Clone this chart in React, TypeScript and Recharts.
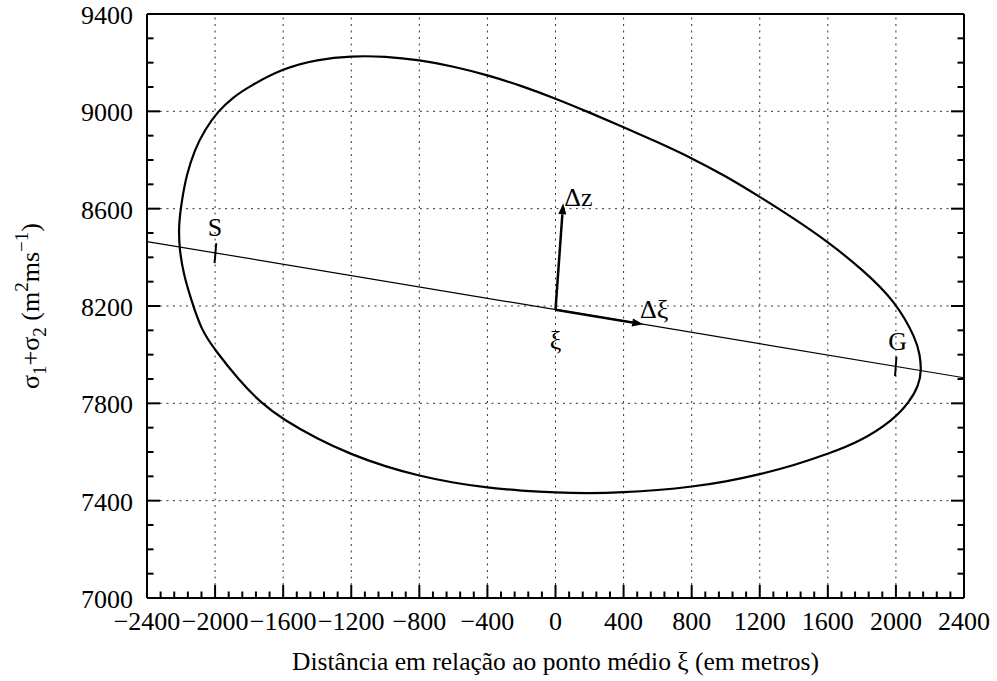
import { ComposedChart, Line, XAxis, YAxis, ReferenceLine, ReferenceDot } from 'recharts';

// axis ticks
const xTicks = [-2400, -2000, -1600, -1200, -800, -400, 0, 400, 800, 1200, 1600, 2000, 2400];
const yTicks = [7000, 7400, 7800, 8200, 8600, 9000, 9400];
const xMinorPerMajor = 5;
const yMinorPerMajor = 4;

// closed contour of sigma1+sigma2 vs distance, starting at the bottom and running clockwise
const loopX = [
  0, -200, -400, -600, -800, -1000, -1200, -1400, -1600, -1728, -1860, -2000, -2081, -2140,
  -2185, -2209, -2215, -2195, -2168, -2121, -2060, -1983, -1900, -1800, -1600, -1400, -1200, -1000,
  -800, -600, -400, -200, 0, 200, 400, 600, 800, 1000, 1200, 1400, 1600, 1800, 2000, 2121,
  2140, 2150, 2135, 2081, 1985, 1790, 1600, 1400, 1200, 1000, 800, 600, 400, 200,
];
const loopY = [
  7433, 7441, 7453, 7473, 7502, 7540, 7590, 7654, 7734, 7800, 7895, 8019, 8101, 8225,
  8330, 8430, 8530, 8636, 8738, 8841, 8925, 9000, 9055, 9102, 9177, 9213, 9228, 9226,
  9211, 9185, 9149, 9105, 9053, 8995, 8935, 8873, 8808, 8734, 8649, 8560, 8464, 8352, 8218, 8060,
  8000, 7937, 7875, 7807, 7731, 7643, 7592, 7545, 7508, 7478, 7457, 7443, 7434, 7430,
];

// straight line through the midpoint
const secantX = [-2400, 2400];
const secantY = [8465, 7905];

// vectors from the midpoint
const arrows = [
  { name: 'dz', from: [0, 8185], to: [45, 8622] },
  { name: 'dxi', from: [0, 8185], to: [515, 8125] },
];

// small marks on the line at S and G
const markers = [
  { name: 'S', from: [-1993, 8458], to: [-2003, 8376] },
  { name: 'G', from: [2003, 7992], to: [1995, 7912] },
];

const labels = [
  { text: 'S', x: -2000, y: 8525 },
  { text: 'G', x: 2010, y: 8056 },
  { text: 'ξ', x: 0, y: 8062 },
  { text: 'Δz', x: 135, y: 8648 },
  { text: 'Δξ', x: 580, y: 8188 },
];

const loopData = loopX.map((x, i) => ({ x, y: loopY[i] }));
const secantData = secantX.map((x, i) => ({ x, y: secantY[i] }));

const subdivide = (ticks: number[], n: number) => {
  const out: number[] = [];
  for (let i = 0; i < ticks.length - 1; i++) {
    const step = (ticks[i + 1] - ticks[i]) / n;
    for (let k = 0; k < n; k++) out.push(ticks[i] + k * step);
  }
  out.push(ticks[ticks.length - 1]);
  return out;
};
const xAllTicks = subdivide(xTicks, xMinorPerMajor);
const yAllTicks = subdivide(yTicks, yMinorPerMajor);

const FONT = "'Liberation Serif', 'Times New Roman', serif";
const FS = 26;
const MAJOR = 13;
const MINOR = 6.5;

const fmt = (v: number) => (v < 0 ? '\u2212' + Math.abs(v) : String(v));

const isMajor = (list: number[], v: number) => list.some((t) => Math.abs(t - v) < 1e-6);

const BottomTick = ({ x, y, payload }: any) => {
  const major = isMajor(xTicks, payload.value);
  return (
    <g>
      <line x1={x} x2={x} y1={y} y2={y - (major ? MAJOR : MINOR)} stroke="#000" strokeWidth={2} />
      {major && (
        <text x={x} y={y + 32} textAnchor="middle" fontFamily={FONT} fontSize={FS} fill="#000">
          {fmt(payload.value)}
        </text>
      )}
    </g>
  );
};

const TopTick = ({ x, y, payload }: any) => {
  const major = isMajor(xTicks, payload.value);
  return <line x1={x} x2={x} y1={y} y2={y + (major ? MAJOR : MINOR)} stroke="#000" strokeWidth={2} />;
};

const LeftTick = ({ x, y, payload }: any) => {
  const major = isMajor(yTicks, payload.value);
  return (
    <g>
      <line x1={x} x2={x + (major ? MAJOR : MINOR)} y1={y} y2={y} stroke="#000" strokeWidth={2} />
      {major && (
        <text x={x - 14} y={y} dy="0.38em" textAnchor="end" fontFamily={FONT} fontSize={FS} fill="#000">
          {payload.value}
        </text>
      )}
    </g>
  );
};

const RightTick = ({ x, y, payload }: any) => {
  const major = isMajor(yTicks, payload.value);
  return <line x1={x} x2={x - (major ? MAJOR : MINOR)} y1={y} y2={y} stroke="#000" strokeWidth={2} />;
};

const XTitle = ({ viewBox }: any) => (
  <text
    x={viewBox.x + viewBox.width / 2}
    y={viewBox.y + 72}
    textAnchor="middle"
    fontFamily={FONT}
    fontSize={25.5}
    fill="#000"
  >
    Distância em relação ao ponto médio ξ (em metros)
  </text>
);

const YTitle = ({ viewBox }: any) => {
  const cx = 39;
  const cy = viewBox.y + viewBox.height / 2;
  const small = 19;
  return (
    <text
      x={cx}
      y={cy}
      transform={`rotate(-90, ${cx}, ${cy})`}
      textAnchor="middle"
      fontFamily={FONT}
      fontSize={FS}
      fill="#000"
    >
      σ<tspan fontSize={small} dy={7}>1</tspan>
      <tspan dy={-7}>+σ</tspan>
      <tspan fontSize={small} dy={7}>2</tspan>
      <tspan dy={-7}> (m</tspan>
      <tspan fontSize={small} dy={-11}>2</tspan>
      <tspan dy={11}>ms</tspan>
      <tspan fontSize={small} dy={-11}>−1</tspan>
      <tspan dy={11}>)</tspan>
    </text>
  );
};

const arrowShape = (props: any) => {
  const { x1, y1, x2, y2 } = props;
  const ang = Math.atan2(y2 - y1, x2 - x1);
  const len = 11;
  const half = 4;
  const bx = x2 - len * Math.cos(ang);
  const by = y2 - len * Math.sin(ang);
  const px = -Math.sin(ang) * half;
  const py = Math.cos(ang) * half;
  return (
    <g>
      <line x1={x1} y1={y1} x2={bx} y2={by} stroke="#000" strokeWidth={2.5} />
      <polygon points={`${x2},${y2} ${bx + px},${by + py} ${bx - px},${by - py}`} fill="#000" />
    </g>
  );
};

const labelShape = (text: string) => (props: any) => (
  <text x={props.cx} y={props.cy} dy="0.35em" textAnchor="middle" fontFamily={FONT} fontSize={FS} fill="#000">
    {text}
  </text>
);

const gridStyle = { stroke: '#333', strokeWidth: 1, strokeDasharray: '2 4.5' };

export default function App() {
  return (
    <div style={{ position: 'absolute', left: 0, top: 0, background: '#fff' }}>
      <ComposedChart width={997} height={681} margin={{ top: 0, right: 0, bottom: 0, left: 0 }}>
        <XAxis
          xAxisId="main"
          dataKey="x"
          type="number"
          orientation="bottom"
          domain={[-2400, 2400]}
          allowDataOverflow
          ticks={xAllTicks}
          interval={0}
          height={83}
          tickSize={0}
          tickMargin={0}
          tickLine={false}
          tick={<BottomTick />}
          axisLine={{ stroke: '#000', strokeWidth: 2 }}
          label={<XTitle />}
        />
        <XAxis
          xAxisId="top"
          type="number"
          orientation="top"
          domain={[-2400, 2400]}
          allowDataOverflow
          ticks={xAllTicks}
          interval={0}
          height={14}
          tickSize={0}
          tickMargin={0}
          tickLine={false}
          tick={<TopTick />}
          axisLine={{ stroke: '#000', strokeWidth: 2 }}
        />
        <YAxis
          yAxisId="main"
          type="number"
          orientation="left"
          domain={[7000, 9400]}
          allowDataOverflow
          ticks={yAllTicks}
          interval={0}
          width={147}
          tickSize={0}
          tickMargin={0}
          tickLine={false}
          tick={<LeftTick />}
          axisLine={{ stroke: '#000', strokeWidth: 2 }}
          label={<YTitle />}
        />
        <YAxis
          yAxisId="right"
          type="number"
          orientation="right"
          domain={[7000, 9400]}
          allowDataOverflow
          ticks={yAllTicks}
          interval={0}
          width={33}
          tickSize={0}
          tickMargin={0}
          tickLine={false}
          tick={<RightTick />}
          axisLine={{ stroke: '#000', strokeWidth: 2 }}
        />

        {xTicks.slice(1, -1).map((v) => (
          <ReferenceLine key={`gx${v}`} x={v} xAxisId="main" yAxisId="main" {...gridStyle} />
        ))}
        {yTicks.slice(1, -1).map((v) => (
          <ReferenceLine key={`gy${v}`} y={v} xAxisId="main" yAxisId="main" {...gridStyle} />
        ))}

        <Line
          data={secantData}
          dataKey="y"
          xAxisId="main"
          yAxisId="main"
          type="linear"
          stroke="#000"
          strokeWidth={1.2}
          dot={false}
          activeDot={false}
          isAnimationActive={false}
        />
        <Line
          data={loopData}
          dataKey="y"
          xAxisId="main"
          yAxisId="main"
          type="basisClosed"
          stroke="#000"
          strokeWidth={2.2}
          dot={false}
          activeDot={false}
          isAnimationActive={false}
        />

        {markers.map((m) => (
          <ReferenceLine
            key={m.name}
            xAxisId="main"
            yAxisId="main"
            segment={[
              { x: m.from[0], y: m.from[1] },
              { x: m.to[0], y: m.to[1] },
            ]}
            stroke="#000"
            strokeWidth={2}
          />
        ))}
        {arrows.map((a) => (
          <ReferenceLine
            key={a.name}
            xAxisId="main"
            yAxisId="main"
            segment={[
              { x: a.from[0], y: a.from[1] },
              { x: a.to[0], y: a.to[1] },
            ]}
            shape={arrowShape}
          />
        ))}
        {labels.map((l) => (
          <ReferenceDot
            key={l.text}
            xAxisId="main"
            yAxisId="main"
            x={l.x}
            y={l.y}
            r={0}
            shape={labelShape(l.text)}
          />
        ))}
      </ComposedChart>
    </div>
  );
}
